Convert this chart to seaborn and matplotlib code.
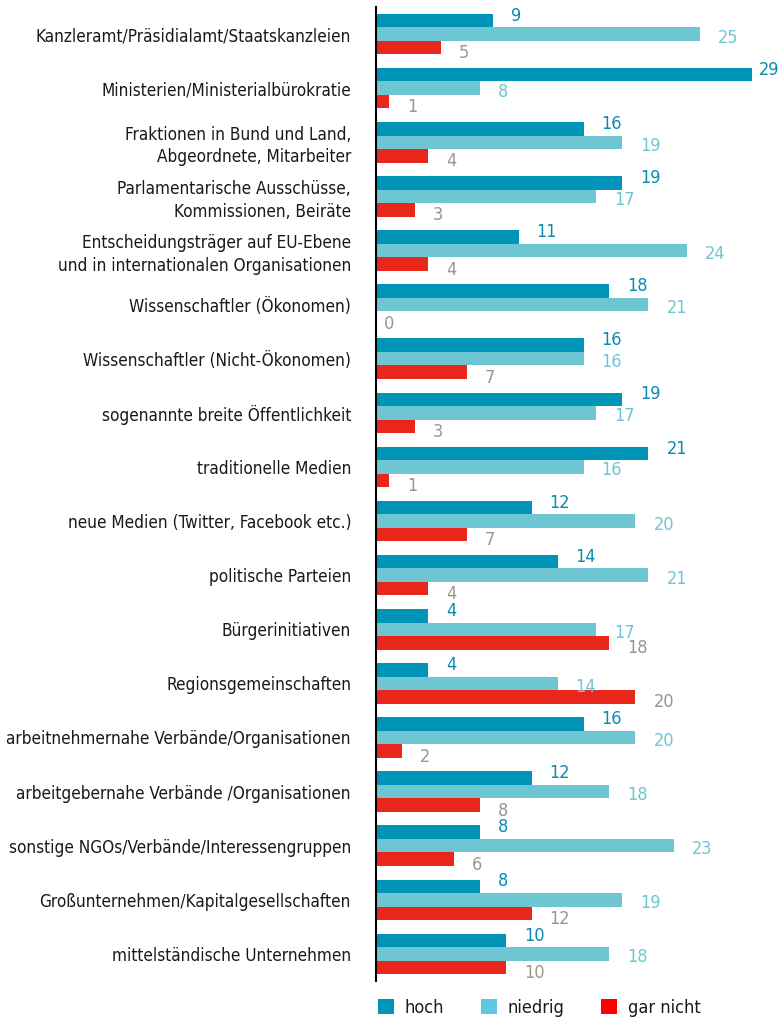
import pandas as pd
import matplotlib
matplotlib.use("Agg")
import matplotlib.pyplot as plt
import seaborn as sns
from matplotlib.patches import Patch

# Daten
kategorien = [
    "Kanzleramt/Präsidialamt/Staatskanzleien",
    "Ministerien/Ministerialbürokratie",
    "Fraktionen in Bund und Land,\nAbgeordnete, Mitarbeiter",
    "Parlamentarische Ausschüsse,\nKommissionen, Beiräte",
    "Entscheidungsträger auf EU-Ebene\nund in internationalen Organisationen",
    "Wissenschaftler (Ökonomen)",
    "Wissenschaftler (Nicht-Ökonomen)",
    "sogenannte breite Öffentlichkeit",
    "traditionelle Medien",
    "neue Medien (Twitter, Facebook etc.)",
    "politische Parteien",
    "Bürgerinitiativen",
    "Regionsgemeinschaften",
    "arbeitnehmernahe Verbände/Organisationen",
    "arbeitgebernahe Verbände /Organisationen",
    "sonstige NGOs/Verbände/Interessengruppen",
    "Großunternehmen/Kapitalgesellschaften",
    "mittelständische Unternehmen",
]
hoch = [9, 29, 16, 19, 11, 18, 16, 19, 21, 12, 14, 4, 4, 16, 12, 8, 8, 10]
niedrig = [25, 8, 19, 17, 24, 21, 16, 17, 16, 20, 21, 17, 14, 20, 18, 23, 19, 18]
gar_nicht = [5, 1, 4, 3, 4, 0, 7, 3, 1, 7, 4, 18, 20, 2, 8, 6, 12, 10]

serien = ["hoch", "niedrig", "gar nicht"]
farben = ["#0094b8", "#6ec6d2", "#e8261c"]
label_farben = ["#0a8ab0", "#6ec6d2", "#9a968c"]
legend_farben = ["#0094b8", "#5ec8dc", "#ff0000"]

df = pd.DataFrame({
    "kategorie": kategorien * 3,
    "serie": [s for s in serien for _ in kategorien],
    "wert": hoch + niedrig + gar_nicht,
})

sns.set_theme(style="white")
plt.rcParams["font.family"] = ["DejaVu Sans Condensed", "DejaVu Sans"]
plt.rcParams["font.stretch"] = "condensed"

fig = plt.figure(figsize=(7.83, 10.19), dpi=100)
ax = fig.add_axes([376 / 783, 38 / 1019, 1 - 376 / 783, 974 / 1019])

sns.barplot(data=df, y="kategorie", x="wert", hue="serie", hue_order=serien,
            order=kategorien, palette=farben, width=0.75, orient="h",
            saturation=1, linewidth=0, legend=False, ax=ax)

x_max = 407 / 12.97
ax.set_xlim(0, x_max)
ax.set_ylim(len(kategorien) - 0.5, -0.5)
ax.set_xlabel("")
ax.set_ylabel("")
ax.set_xticks([])
for s in ["top", "right", "bottom"]:
    ax.spines[s].set_visible(False)
ax.spines["left"].set_color("black")
ax.spines["left"].set_linewidth(1.5)
ax.tick_params(axis="y", length=0, pad=18, labelsize=12.3, colors="#1a1a1a")
for lbl in ax.get_yticklabels():
    lbl.set_horizontalalignment("right")
    lbl.set_multialignment("right")
    lbl.set_linespacing(1.3)

# Wertbeschriftungen (rechts neben den Balken, am Rand etwas enger)
y_off = [3.5, -2.5, -4]
for i, cont in enumerate(ax.containers):
    for bar, v in zip(cont, [hoch, niedrig, gar_nicht][i]):
        y = bar.get_y() + bar.get_height() / 2
        x_off = 6 if v == 0 else 13
        if bar.get_width() > x_max - 2.5:
            x_off = 5
        ax.annotate(str(v), xy=(bar.get_width(), y), xytext=(x_off, y_off[i]),
                    textcoords="offset points", ha="left", va="center",
                    fontsize=13, color=label_farben[i])

handles = [Patch(facecolor=c, edgecolor="none") for c in legend_farben]
fig.legend(handles, serien, loc="lower left", bbox_to_anchor=(376 / 783, 0.0),
           ncol=3, frameon=False, fontsize=13, handlelength=0.9, handleheight=0.9,
           handletextpad=0.6, columnspacing=2.0, borderpad=0.1, borderaxespad=0,
           labelcolor="#1a1a1a")

fig.savefig("out.png", dpi=100)
